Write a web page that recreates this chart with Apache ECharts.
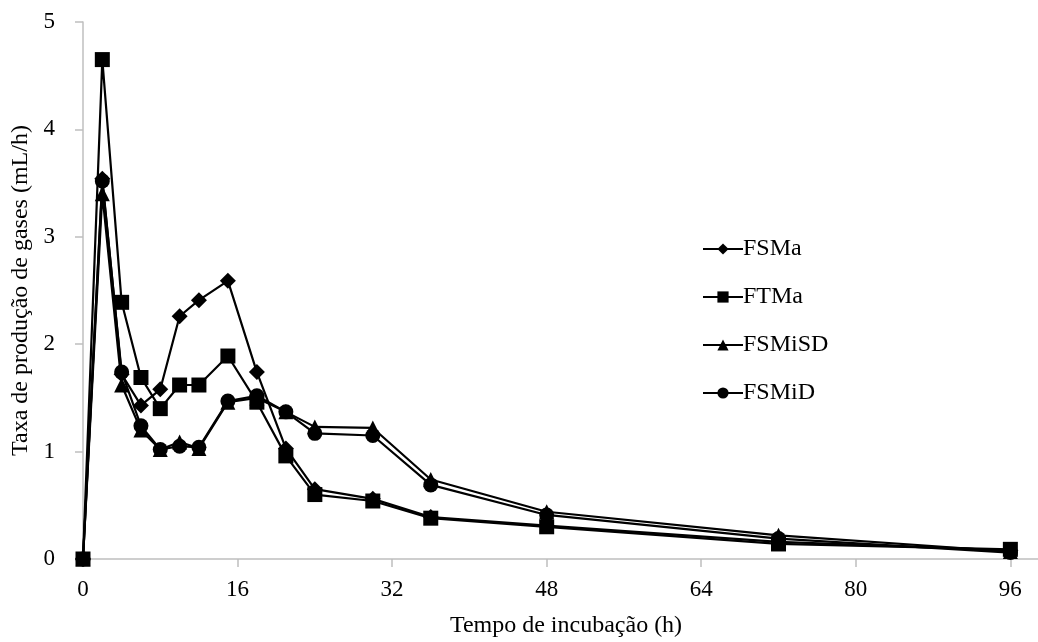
<!DOCTYPE html>
<html>
  <head>
    <meta charset="utf-8" />
    <title>Taxa de produção de gases</title>
    <script src="https://cdn.jsdelivr.net/npm/echarts@6/dist/echarts.min.js"></script>
    <style>
      html, body { margin: 0; padding: 0; background: #fff; }
      #chart { width: 1038px; height: 642px; }
    </style>
  </head>
  <body>
    <div id="chart"></div>
    <script type="text/javascript">
      // incubation times (h)
      const hours = [0, 2, 4, 6, 8, 10, 12, 15, 18, 21, 24, 30, 36, 48, 72, 96];
      // gas production rate (mL/h)
      const fsma   = [0, 3.54, 1.72, 1.43, 1.58, 2.26, 2.41, 2.59, 1.74, 1.03, 0.65, 0.56, 0.39, 0.31, 0.16, 0.08];
      const ftma   = [0, 4.65, 2.39, 1.69, 1.40, 1.62, 1.62, 1.89, 1.46, 0.96, 0.60, 0.54, 0.38, 0.30, 0.14, 0.09];
      const fsmisd = [0, 3.40, 1.62, 1.20, 1.02, 1.09, 1.03, 1.46, 1.50, 1.37, 1.23, 1.22, 0.74, 0.44, 0.22, 0.07];
      const fsmid  = [0, 3.52, 1.74, 1.24, 1.02, 1.05, 1.04, 1.47, 1.52, 1.37, 1.17, 1.15, 0.69, 0.41, 0.19, 0.06];
      const xTicks = [0, 16, 32, 48, 64, 80, 96];

      const font = '"Liberation Serif", "Times New Roman", serif';
      const axisGrey = '#bfbfbf';

      function pairs(values) {
        return hours.map((h, i) => [h, values[i]]);
      }

      function makeSeries(name, values, symbol, size) {
        return {
          name: name,
          type: 'line',
          data: pairs(values),
          symbol: symbol,
          symbolSize: size,
          lineStyle: { color: '#000', width: 2.2 },
          itemStyle: { color: '#000' },
          emphasis: { disabled: true }
        };
      }

      const chart = echarts.init(document.getElementById('chart'));
      chart.setOption({
        animation: false,
        textStyle: { fontFamily: font },
        grid: { left: 83, right: -11, top: 22, bottom: 83, outerBoundsMode: 'none' },
        legend: {
          orient: 'vertical',
          left: 697,
          top: 232,
          itemWidth: 40,
          itemHeight: 14,
          itemGap: 24,
          textStyle: { fontFamily: font, fontSize: 24, color: '#000', padding: [0, 0, 0, -5] },
          data: ['FSMa', 'FTMa', 'FSMiSD', 'FSMiD']
        },
        xAxis: {
          type: 'value',
          min: 0,
          max: 100,
          interval: 16,
          name: 'Tempo de incubação (h)',
          nameLocation: 'middle',
          nameGap: 55,
          nameTextStyle: { fontFamily: font, fontSize: 24, color: '#000' },
          axisLine: { lineStyle: { color: axisGrey, width: 1.5 } },
          axisTick: { show: true, length: 8, lineStyle: { color: axisGrey, width: 1.5 }, customValues: xTicks },
          axisLabel: { fontFamily: font, fontSize: 23, color: '#000', margin: 19, customValues: xTicks },
          splitLine: { show: false }
        },
        yAxis: {
          type: 'value',
          min: 0,
          max: 5,
          interval: 1,
          name: 'Taxa de produção de gases (mL/h)',
          nameLocation: 'middle',
          nameGap: 50,
          nameTextStyle: { fontFamily: font, fontSize: 24, color: '#000' },
          axisLine: { show: true, lineStyle: { color: axisGrey, width: 1.5 } },
          axisTick: { show: true, length: 8, lineStyle: { color: axisGrey, width: 1.5 } },
          axisLabel: { fontFamily: font, fontSize: 23, color: '#000', margin: 28 },
          splitLine: { show: false }
        },
        series: [
          makeSeries('FSMa', fsma, 'diamond', 16),
          makeSeries('FTMa', ftma, 'rect', 15),
          makeSeries('FSMiSD', fsmisd, 'triangle', 15),
          makeSeries('FSMiD', fsmid, 'circle', 15)
        ]
      });
    </script>
  </body>
</html>
